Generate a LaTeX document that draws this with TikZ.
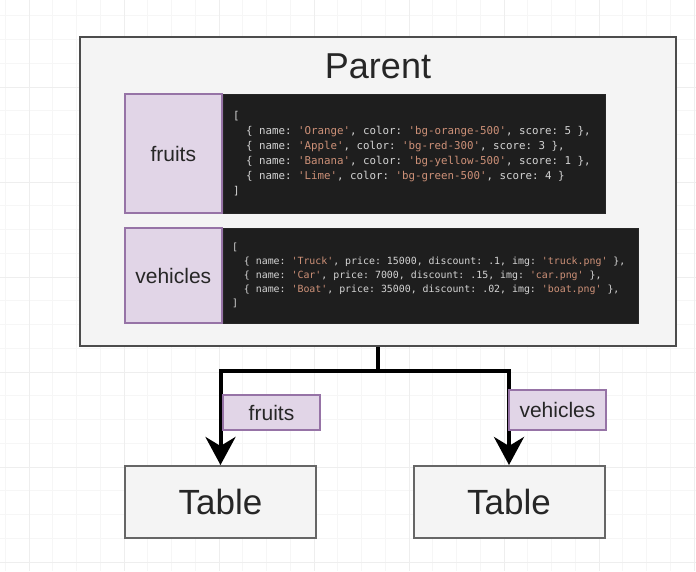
\documentclass[tikz,border=0pt]{standalone}
\usepackage{fontspec}
\setmainfont{Liberation Sans}
\setmonofont{DejaVu Sans Mono}[WordSpace={1,0,0}]
\usetikzlibrary{positioning,arrows.meta}

\definecolor{gridminor}{HTML}{F6F6F6}
\definecolor{gridmajor}{HTML}{EEEEEE}
\definecolor{boxfill}{HTML}{F4F4F4}
\definecolor{keyfill}{HTML}{E1D5E7}
\definecolor{keyline}{HTML}{9673A6}
\definecolor{codebg}{HTML}{1E1E1E}
\definecolor{codetext}{HTML}{D4D4D4}
\definecolor{codestr}{HTML}{CE9178}
\definecolor{inktext}{HTML}{262626}

\newcommand{\codestr}[1]{\textcolor{codestr}{#1}}

\begin{document}
\begin{tikzpicture}[
        x=1pt, y=-1pt,
        parentbox/.style={
            rectangle,
            draw=black!70,
            fill=boxfill,
            line width=2pt
        },
        keybox/.style={
            rectangle,
            draw=keyline,
            fill=keyfill,
            line width=2pt,
            text=inktext,
            font=\fontsize{21}{24}\selectfont
        },
        codebox/.style={
            rectangle,
            draw=black!85,
            fill=codebg
        },
        codetext/.style={
            anchor=west,
            text=codetext,
            align=left,
            inner sep=0pt
        },
        tablebox/.style={
            rectangle,
            draw=black!60,
            fill=boxfill,
            line width=2pt,
            minimum width=191pt,
            minimum height=72pt,
            text=inktext,
            font=\fontsize{35}{40}\selectfont
        },
        conn/.style={
            line width=4pt,
            -{Stealth[length=28pt, width=30pt, inset=9pt]}
        }
    ]

    \useasboundingbox (0,0) rectangle (696,571);
    \fill[white] (0,0) rectangle (696,571);

    % Background grid
    \foreach \k in {0,...,29}
        \draw[gridminor, line width=1pt] ({5.25+\k*23.75},0) -- ++(0,571);
    \foreach \k in {0,...,23}
        \draw[gridminor, line width=1pt] (0,{15.75+\k*23.75}) -- ++(696,0);
    \foreach \k in {0,...,7}
        \draw[gridmajor, line width=1pt] ({29+\k*95},0) -- ++(0,571);
    \foreach \k in {0,...,5}
        \draw[gridmajor, line width=1pt] (0,{87+\k*95}) -- ++(696,0);

    % Parent component
    \node[parentbox, minimum width=596pt, minimum height=309pt] (parent) at (378,191.5) {};
    \node[anchor=base, text=inktext, font=\fontsize{36}{40}\selectfont] (parenttitle) at (378,78) {Parent};

    % fruits prop
    \node[codebox, minimum width=382pt, minimum height=119pt] (fruitscode) at (414,153.5) {};
    \node[codetext, font=\fontsize{10.8}{15}\selectfont\ttfamily] (fruitstext) at ([xshift=10pt]fruitscode.west) {%
        [\\
        \hphantom{xx}\{ name: \codestr{'Orange'}, color: \codestr{'bg-orange-500'}, score: 5 \},\\
        \hphantom{xx}\{ name: \codestr{'Apple'}, color: \codestr{'bg-red-300'}, score: 3 \},\\
        \hphantom{xx}\{ name: \codestr{'Banana'}, color: \codestr{'bg-yellow-500'}, score: 1 \},\\
        \hphantom{xx}\{ name: \codestr{'Lime'}, color: \codestr{'bg-green-500'}, score: 4 \}\\
        ]};
    \node[keybox, left=0pt of fruitscode, minimum width=97pt, minimum height=119pt] (fruits) {fruits};

    % vehicles prop
    \node[codebox, minimum width=415pt, minimum height=95pt] (vehiclescode) at (430.5,275.5) {};
    \node[codetext, font=\fontsize{9.9}{14}\selectfont\ttfamily] (vehiclestext) at ([xshift=9pt]vehiclescode.west) {%
        [\\
        \hphantom{xx}\{ name: \codestr{'Truck'}, price: 15000, discount: .1, img: \codestr{'truck.png'} \},\\
        \hphantom{xx}\{ name: \codestr{'Car'}, price: 7000, discount: .15, img: \codestr{'car.png'} \},\\
        \hphantom{xx}\{ name: \codestr{'Boat'}, price: 35000, discount: .02, img: \codestr{'boat.png'} \},\\
        ]};
    \node[keybox, left=0pt of vehiclescode, minimum width=97pt, minimum height=95pt] (vehicles) {vehicles};

    % Child tables
    \node[tablebox] (tableL) at (220.5,502) {Table};
    \node[tablebox] (tableR) at (509,502) {Table};

    % Connections
    \draw[conn] (parent.south) -- ++(0,24) -| (tableL.north);
    \draw[conn] (parent.south) -- ++(0,24) -| (tableR.north);

    % Prop labels on the connections
    \node[keybox, anchor=north west, minimum width=97pt, minimum height=35pt] (fruitslbl) at (222,394) {fruits};
    \node[keybox, anchor=north west, minimum width=97pt, minimum height=40pt] (vehicleslbl) at (508,389) {vehicles};

\end{tikzpicture}
\end{document}
